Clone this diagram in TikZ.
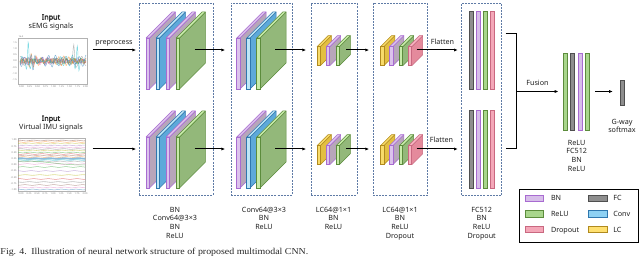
\documentclass[tikz,border=0pt]{standalone}
\usepackage{fontspec}
\setmainfont{Noto Sans}
\newfontfamily\boldin{Noto Sans}[FakeBold=2.2]
\newfontfamily\capfont{Liberation Serif}[FakeStretch=1.1]
\usetikzlibrary{arrows.meta}
\definecolor{txt}{HTML}{222222}
\definecolor{dash}{HTML}{5F7BA6}
\definecolor{bnF}{HTML}{DCC3EC}\definecolor{bnS}{HTML}{B7A6BA}\definecolor{bnE}{HTML}{A86BD1}\definecolor{bnB}{HTML}{D7BEE9}
\definecolor{convF}{HTML}{BFE7F7}\definecolor{convS}{HTML}{5DA9DA}\definecolor{convE}{HTML}{2F77AE}\definecolor{convB}{HTML}{8ED1F3}
\definecolor{reluF}{HTML}{C8EBAA}\definecolor{reluS}{HTML}{93B87A}\definecolor{reluE}{HTML}{5C8C3C}\definecolor{reluB}{HTML}{A9D68C}
\definecolor{lcF}{HTML}{F8DB6A}\definecolor{lcS}{HTML}{E3BF42}\definecolor{lcE}{HTML}{B08A1E}\definecolor{lcB}{HTML}{FFE070}
\definecolor{dropF}{HTML}{F7B3C1}\definecolor{dropS}{HTML}{E48A9C}\definecolor{dropE}{HTML}{C96880}\definecolor{dropB}{HTML}{F4A7B8}
\definecolor{fcB}{HTML}{8E8E8E}\definecolor{fcE}{HTML}{4F4F4F}
\definecolor{T1}{HTML}{1F77B4}\definecolor{T2}{HTML}{FF7F0E}\definecolor{T3}{HTML}{2CA02C}
\definecolor{T4}{HTML}{D62728}\definecolor{T5}{HTML}{9467BD}\definecolor{T6}{HTML}{8C564B}
\definecolor{T7}{HTML}{E377C2}\definecolor{T8}{HTML}{7F7F7F}\definecolor{T9}{HTML}{BCBD22}
\definecolor{T10}{HTML}{17BECF}
\newcommand{\drawslab}[6]{%
  \filldraw[draw=#6E, fill=#6S, line width=0.5pt, line join=round] (#1+#3,#2) -- ++(#5,-#5) -- ++(0,#4) -- ++(-#5,#5) -- cycle;
  \filldraw[draw=#6E, fill=#6F, line width=0.5pt, line join=round] (#1,#2) -- ++(#5,-#5) -- ++(#3,0) -- ++(-#5,#5) -- cycle;
  \filldraw[draw=#6E, fill=#6F, line width=0.5pt] (#1,#2) rectangle ++(#3,#4);}
\newcommand{\drawbar}[5]{\filldraw[draw=#5E, fill=#5B, line width=0.6pt] (#1,#2) rectangle ++(#3,#4);}
\tikzset{
  every node/.style={inner sep=0pt, outer sep=0pt, text=txt, font=\fontsize{7.2}{8.7}\selectfont},
  dbox/.style={draw=dash, line width=0.9pt, dash pattern=on 2pt off 1.1pt, minimum height=192pt},
  arr/.style={line width=1pt, -{Latex[length=3.6pt,width=3.2pt]}},
  lbl/.style={align=center, anchor=north},
  tick/.style={font=\fontsize{2.4}{2.8}\selectfont, text=black!50},
  sig/.style={line width=0.45pt, opacity=0.55},
}
\begin{document}
\begin{tikzpicture}[x=1pt,y=-1pt]
\useasboundingbox (0,0) rectangle (640,256);
\clip (0,0) rectangle (640,256);
\fill[white] (0,0) rectangle (640,256);

% ---------- input labels ----------
\node[lbl] (in1) at (51,13.5) {\strut{\boldin Input}\\sEMG signals};
\node[lbl] (in2) at (51,114.8) {\strut{\boldin Input}\\Virtual IMU signals};

% ---------- sEMG plot ----------
\draw[black!30, line width=0.3pt] (18.3,38.3) rectangle (87.3,84.3);
\begin{scope}
\clip (18.3,38.3) rectangle (87.3,84.3);
\draw[sig, T6] plot[domain=20:86, samples=120] (\x,{61+2.5*sin(73*\x+140)});
\draw[sig, T4] plot[domain=20:86, samples=120] (\x,{61+2*sin(90*\x+10)});
\draw[sig, T9] plot[domain=20:86, samples=120] (\x,{61+3*sin(80*\x+200)*sin(4*\x+10)});
\draw[sig, T3] plot[domain=20:86, samples=120] (\x,{61+3*sin(49*\x+250)*sin(5.5*\x+30)});
\draw[sig, T7] plot[domain=20:86, samples=120] (\x,{61+4*sin(58*\x+300)*sin(2.5*\x)});
\draw[sig, T5] plot[domain=20:86, samples=120] (\x,{61+4*sin(66*\x+15)*sin(7*\x+120)});
\draw[sig, T2] plot[domain=20:86, samples=120] (\x,{61+5*sin(71*\x+60)*sin(6*\x+70)+6*sin(88*\x)/(1+((\x-30)/2)^2)});
\draw[sig, T8] plot[domain=20:86, samples=120] (\x,{61+5*sin(44*\x+100)*sin(3*\x+45)+12*sin(77*\x)/(1+((\x-74)/1.5)^2)});
\draw[sig, T1] plot[domain=20:86, samples=120] (\x,{61+6*sin(53*\x+30)*sin(5*\x+10)+10*sin(90*\x)/(1+((\x-33)/2)^2)});
\draw[sig, T10] plot[domain=20:86, samples=140] (\x,{61+5*sin(61*\x)*sin(4*\x)+16*sin(97*\x+40)/(1+((\x-28)/1.5)^2)+18*sin(83*\x)/(1+((\x-78)/1.5)^2)});
\end{scope}
\foreach \v [count=\i] in {1.5,1.0,0.5,0.0,-0.5,-1.0,-1.5}
  \node[tick, anchor=east] (ey\i) at (16.8,{42.5+(\i-1)*6.2}) {\v};
\node[tick, anchor=west] (eexp) at (18.5,36.3) {1e-4};
\foreach \v [count=\i] in {0.00,0.25,0.50,0.75,1.00,1.25,1.50,1.75,2.00}
  \node[tick, anchor=north] (ex\i) at ({21.5+(\i-1)*8},86) {\v};

% ---------- IMU plot ----------
\draw[black!30, line width=0.3pt] (18,138.3) rectangle (85,191);
\begin{scope}
\clip (18,138.3) rectangle (85,191);
\foreach \yy/\cc/\ww in {140.5/T6/0.6, 142/T2/0.5, 143.5/T9/0.5, 145.5/T5/0.5, 147.5/T7/0.5, 149/T8/0.6, 150.5/T9/0.6, 152.5/T3/0.5, 154/T4/0.5, 155.5/T6/0.5, 157/T2/0.5, 158.5/T1/1.6, 160/T10/0.8, 161.5/T8/0.5, 164/T7/0.5, 167/T3/0.5, 171/T5/0.5, 175/T9/0.6, 179/T4/0.5, 182/T8/0.6, 185/T6/0.5, 187.5/T7/0.5, 189.5/T1/0.5}
  \draw[\cc, line width=\ww, opacity=0.5] plot[domain=18:85, samples=30] (\x,{\yy+0.35*sin(25*\x+\yy*37)});
\draw[T3, line width=0.5pt, opacity=0.5] plot[domain=18:85, samples=30] (\x,{163+2*sin(3*\x+200)});
\end{scope}
\foreach \v [count=\i] in {1.00,0.75,0.50,0.25,0.00,-0.25,-0.50,-0.75,-1.00}
  \node[tick, anchor=east] (iy\i) at (16.5,{140+(\i-1)*6.2}) {\v};
\foreach \v [count=\i] in {0.00,0.25,0.50,0.75,1.00,1.25,1.50,1.75,2.00}
  \node[tick, anchor=north] (ix\i) at ({21+(\i-1)*8},192.5) {\v};

\node[anchor=base] (pre) at (114,44.3) {preprocess};

% ---------- dashed group boxes ----------
\node[dbox, minimum width=74pt] (b1) at (176,99) {};
\node[dbox, minimum width=61pt] (b2) at (261.5,99) {};
\node[dbox, minimum width=46pt] (b3) at (334,99) {};
\node[dbox, minimum width=54.5pt] (b4) at (400.25,99) {};
\node[dbox, minimum width=40pt] (b5) at (481.7,99.5) {};

% ---------- blocks ----------
\foreach \dy in {0,99}{
  \drawslab{146}{38+\dy}{3.4}{51}{26}{bn}
  \drawslab{156}{38+\dy}{3.4}{51}{26}{conv}
  \drawslab{166}{38+\dy}{3.4}{51}{26}{bn}
  \drawslab{176}{38+\dy}{3.4}{51}{26}{relu}
  \drawslab{236.7}{38+\dy}{3.4}{51}{26}{bn}
  \drawslab{246.7}{38+\dy}{3.4}{51}{26}{conv}
  \drawslab{256.7}{38+\dy}{3.4}{51}{26}{relu}
  \drawslab{317}{46.7+\dy}{3.4}{19}{11}{lc}
  \drawslab{326.3}{46.7+\dy}{3.4}{19}{11}{bn}
  \drawslab{336}{46.7+\dy}{3.4}{19}{11}{relu}
  \drawslab{380.5}{46.7+\dy}{3.4}{19}{11}{lc}
  \drawslab{389.5}{46.7+\dy}{3.4}{19}{11}{bn}
  \drawslab{399.3}{46.7+\dy}{3.4}{19}{11}{relu}
  \drawslab{408.3}{46.7+\dy}{3.4}{19}{11}{drop}
  \drawbar{469.3}{11.7+\dy}{4}{77.5}{fc}
  \drawbar{476.7}{11.7+\dy}{4}{77.5}{bn}
  \drawbar{483.3}{11.7+\dy}{4}{77.5}{relu}
  \drawbar{490.7}{11.7+\dy}{4}{77.5}{drop}
}

% ---------- arrow anchors ----------
\coordinate (emgout) at (92.5,50);
\coordinate (imuout) at (92.5,149);
\coordinate (o1t) at (194.5,50);  \coordinate (o1b) at (194.5,149);
\coordinate (o2t) at (275,50);    \coordinate (o2b) at (275,149);
\coordinate (o3t) at (346.3,50);  \coordinate (o3b) at (346.3,149);
\coordinate (o4t) at (416.5,50);  \coordinate (o4b) at (416.5,149);

\draw[arr, shorten >=3pt] (emgout) -- (emgout -| b1.west);
\draw[arr, shorten >=3pt] (imuout) -- (imuout -| b1.west);
\draw[arr, shorten >=6pt] (o1t) -- (o1t -| b2.west);
\draw[arr, shorten >=6pt] (o1b) -- (o1b -| b2.west);
\draw[arr, shorten >=5pt] (o2t) -- (o2t -| b3.west);
\draw[arr, shorten >=5pt] (o2b) -- (o2b -| b3.west);
\draw[arr, shorten >=4pt] (o3t) -- (o3t -| b4.west);
\draw[arr, shorten >=4pt] (o3b) -- (o3b -| b4.west);
\draw[arr, shorten >=4pt] (o4t) -- (o4t -| b5.west);
\draw[arr, shorten >=4pt] (o4b) -- (o4b -| b5.west);
\node[anchor=base] (fl1) at (442.5,44.3) {Flatten};
\node[anchor=base] (fl2) at (441.5,142.6) {Flatten};

% ---------- fusion ----------
\coordinate (brt) at (505.7,34);
\coordinate (brb) at (505.7,148.3);
\coordinate (brm) at (516.7,91.5);
\draw[line width=1pt] (brt) -- (516.7,34) -- (516.7,148.3) -- (brb);
\node[anchor=base] (fus) at (537.5,85.3) {Fusion};
\drawbar{563.3}{53.3}{4}{76.7}{relu}
\drawbar{570.7}{53.3}{4}{76.7}{fc}
\drawbar{578}{53.3}{4}{76.7}{bn}
\drawbar{585.3}{53.3}{4}{76.7}{relu}
\coordinate (fin) at (563.3,91.5);
\draw[arr, shorten >=5pt] (brm) -- (fin);
\coordinate (fout) at (595,91.5);
\coordinate (smin) at (620.7,91.5);
\draw[arr, shorten >=8pt] (fout) -- (smin);
\drawbar{620.7}{80}{3.3}{25}{fc}
\node[lbl] (sm) at (622,118.2) {\strut G-way\\softmax};
\node[lbl] (fl) at (576.7,139.2) {\strut ReLU\\FC512\\BN\\ReLU};

% ---------- labels under blocks ----------
\node[lbl] (l1) at (175,206) {\strut BN\\Conv64@3×3\\BN\\ReLU};
\node[lbl] (l2) at (264,206) {\strut Conv64@3×3\\BN\\ReLU};
\node[lbl] (l3) at (333.5,206) {\strut LC64@1×1\\BN\\ReLU};
\node[lbl] (l4) at (400,206) {\strut LC64@1×1\\BN\\ReLU\\Dropout};
\node[lbl] (l5) at (481.7,206) {\strut FC512\\BN\\ReLU\\Dropout};

% ---------- legend ----------
\node[draw=black, line width=0.8pt, minimum width=119pt, minimum height=53.3pt] (leg) at (578.8,215.65) {};
\filldraw[draw=bnE, fill=bnB, line width=0.8pt] (525,195.2) rectangle (543.3,201.5);
\filldraw[draw=reluE, fill=reluB, line width=0.8pt] (525,210.9) rectangle (543.3,217.2);
\filldraw[draw=dropE, fill=dropB, line width=0.8pt] (525,226.5) rectangle (543.3,232.8);
\filldraw[draw=fcE, fill=fcB, line width=0.8pt] (588.3,195.2) rectangle (607.3,201.5);
\filldraw[draw=convE, fill=convB, line width=0.8pt] (588.3,210.9) rectangle (607.3,217.2);
\filldraw[draw=lcE, fill=lcB, line width=0.8pt] (588.3,226.5) rectangle (607.3,232.8);
\node[anchor=base west] (lg1) at (551,200.9) {BN};
\node[anchor=base west] (lg2) at (551,216.6) {ReLU};
\node[anchor=base west] (lg3) at (551,232.3) {Dropout};
\node[anchor=base west] (lg4) at (613.3,200.9) {FC};
\node[anchor=base west] (lg5) at (613.3,216.6) {Conv};
\node[anchor=base west] (lg6) at (613.3,232.3) {LC};

% ---------- caption ----------
\node[anchor=base west, font=\capfont\fontsize{9}{10}\selectfont, text=black!85] (cap) at (0.5,254.2) {Fig. 4.\enspace Illustration of neural network structure of proposed multimodal CNN.};
\end{tikzpicture}
\end{document}
